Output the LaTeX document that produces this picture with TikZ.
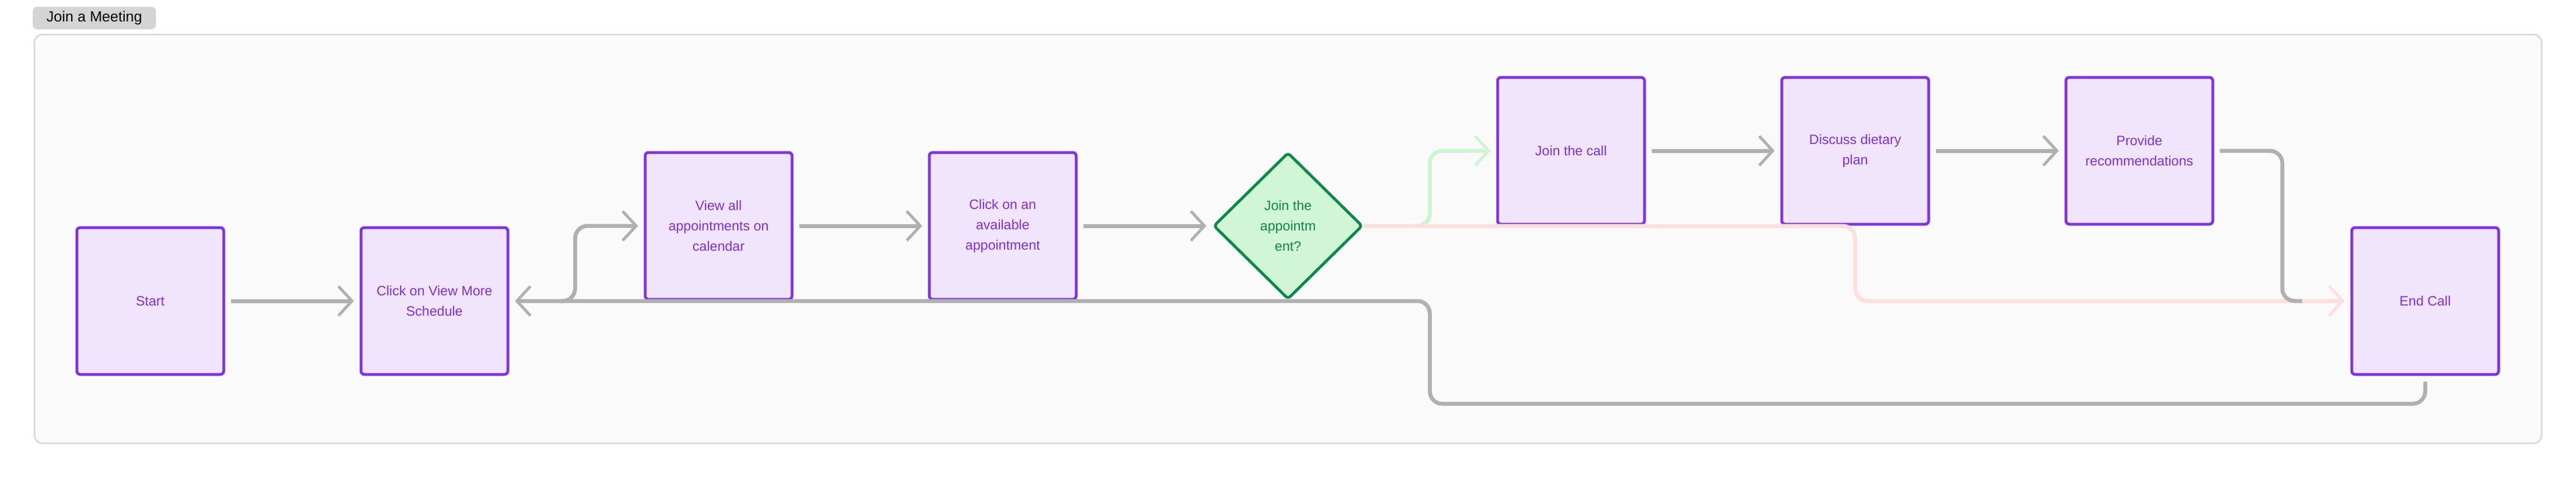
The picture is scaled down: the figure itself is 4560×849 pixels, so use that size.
\documentclass[tikz,border=0pt]{standalone}
\usepackage{fontspec}
\setmainfont{Liberation Sans}
\usetikzlibrary{shapes.geometric, arrows.meta}

\definecolor{boxfill}{HTML}{F1E4FD}
\definecolor{boxline}{HTML}{8033E0}
\definecolor{boxtext}{HTML}{7E2FE0}
\definecolor{decfill}{HTML}{D0F6D6}
\definecolor{decline}{HTML}{0A8A48}
\definecolor{flowgray}{HTML}{B0B0B0}
\definecolor{flowgreen}{HTML}{CCF5D0}
\definecolor{flowpink}{HTML}{FFDEDE}

\tikzset{
  stepbox/.style={draw=boxline, fill=boxfill, line width=5pt, rounded corners=6pt,
    minimum width=260pt, minimum height=260pt, text=boxtext, align=center,
    font=\fontsize{24}{36}\selectfont},
  decision/.style={diamond, draw=decline, fill=decfill, line width=5pt, rounded corners=6pt,
    minimum width=264pt, minimum height=260pt, inner sep=0pt, text=decline, align=center,
    font=\fontsize{24}{36}\selectfont},
  flow/.style={draw=flowgray, line width=7pt, rounded corners=22pt,
    shorten <=10pt, shorten >=10pt,
    -{Straight Barb[length=24pt, width=52pt, line width=5pt]}},
}

\begin{document}
\begin{tikzpicture}[x=1pt, y=-1pt]
  \useasboundingbox (0,0) rectangle (4560,849);

  % frame and title
  \draw[fill=black!2, draw=black!14, line width=3pt, rounded corners=14pt] (61,61) rectangle (4499,785);
  \node[fill=black!17, rounded corners=8pt, minimum width=218pt, minimum height=40pt,
        font=\fontsize{26}{30}\selectfont] (title) at (167,32) {Join a Meeting};

  % steps
  \node[stepbox] (start) at (266,533) {Start};
  \node[stepbox] (more) at (769,533) {Click on View More\\Schedule};
  \node[stepbox] (viewall) at (1272,400) {View all\\appointments on\\calendar};
  \node[stepbox] (avail) at (1775,400) {Click on an\\available\\appointment};
  \node[decision] (join) at (2280,400) {Join the\\appointm\\ent?};
  \node[stepbox] (call) at (2781,267) {Join the call};
  \node[stepbox] (diet) at (3284,267) {Discuss dietary\\plan};
  \node[stepbox] (recom) at (3787,267) {Provide\\recommendations};
  \node[stepbox] (endcall) at (4293,533) {End Call};
  \coordinate (merge) at (4075,533);

  % connectors
  \draw[flow] (start) -- (more);
  \draw[flow, shorten <=0pt] (more.east) ++(90,0) -- (1018,533) -- (1018,400) -- (viewall.west);
  \draw[flow] (viewall) -- (avail);
  \draw[flow] (avail) -- (join);
  \draw[flow, draw=flowgreen, shorten <=0pt] (join.east) -- (2531,400) -- (2531,267) -- (call.west);
  \draw[flow, draw=flowpink, shorten <=0pt] (join.east) -- (3284,400) -- (3284,533) -- (endcall.west);
  \draw[flow] (call) -- (diet);
  \draw[flow] (diet) -- (recom);
  \draw[flow, -, shorten >=0pt] (recom.east) -- (4040,267) -- (4040,533) -- (merge);
  \draw[flow] (endcall.south) -- (4293,715) -- (2531,715) -- (2531,533) -- (more.east);
\end{tikzpicture}
\end{document}
